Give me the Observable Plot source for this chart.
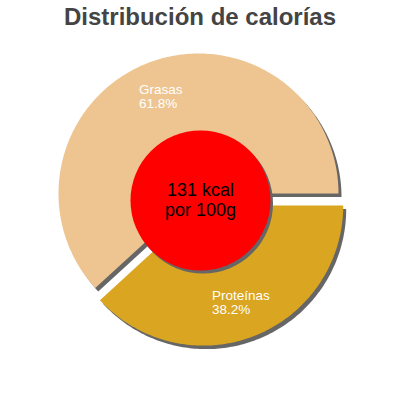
<!DOCTYPE html>
<html>
<head>
<meta charset="utf-8">
<script src="https://cdn.jsdelivr.net/npm/d3@7"></script>
<script src="https://cdn.jsdelivr.net/npm/@observablehq/plot@0.6"></script>
<style>
  html, body { margin: 0; padding: 0; background: #fff; }
  body { width: 400px; height: 400px; overflow: hidden; font-family: "Liberation Sans", Arial, sans-serif; }
  #title { height: 34px; line-height: 34px; text-align: center; font-size: 24px; font-weight: bold; color: #444; }
  svg { display: block; }
</style>
</head>
<body>
<div id="title"></div>
<div id="chart"></div>
<script>
const title = "Distribución de calorías";
const categories = ["Grasas", "Proteínas"];
const percents = [61.8, 38.2];
const percentLabels = ["61.8%", "38.2%"];
const colors = ["#EEC591", "#DAA520"];
const centerLines = ["131 kcal", "por 100g"];

document.getElementById("title").textContent = title;

const R = 140, explode = 13, labelR = 104;
const total = d3.sum(percents);
const ctx = document.createElement("canvas").getContext("2d");
ctx.font = "13.5px 'Liberation Sans', Arial, sans-serif";

let a0 = 0;
const slices = categories.map((name, i) => {
  const span = percents[i] / total * 2 * Math.PI;
  const start = a0, end = a0 - span;
  a0 = end;
  const mid = (start + end) / 2;
  const off = i === categories.length - 1 ? explode : 0;
  const ox = off * Math.cos(mid), oy = off * Math.sin(mid);
  const n = Math.ceil(span * 180 / Math.PI);
  const pts = [{x: ox, y: oy}];
  for (let k = 0; k <= n; k++) {
    const t = start + (end - start) * k / n;
    pts.push({x: ox + R * Math.cos(t), y: oy + R * Math.sin(t)});
  }
  const lines = [name, percentLabels[i]];
  const w = d3.max(lines, s => ctx.measureText(s).width);
  const label = {
    x: ox + labelR * Math.cos(mid) - w / 2,
    y: oy + labelR * Math.sin(mid),
    text: lines.join("\n")
  };
  return {name, color: colors[i], pts, label};
});

const center = [{x: 0, y: 0, text: centerLines.join("\n")}];

const marks = [];
for (const s of slices) {
  marks.push(Plot.line(s.pts, {x: "x", y: "y", fill: "#666", stroke: "none", curve: "linear-closed", dx: 3, dy: 3.5}));
}
for (const s of slices) {
  marks.push(Plot.line(s.pts, {x: "x", y: "y", fill: s.color, stroke: "none", curve: "linear-closed"}));
}
marks.push(Plot.text(slices.map(s => s.label), {
  x: "x", y: "y", text: "text", textAnchor: "start", lineAnchor: "middle",
  fontSize: 13.5, lineHeight: 1.0, fill: "white",
  fontFamily: "'Liberation Sans', Arial, sans-serif"
}));
marks.push(Plot.dot(center, {x: "x", y: "y", r: 70, fill: "#666", stroke: "none", dx: 4.5, dy: 10}));
marks.push(Plot.dot(center, {x: "x", y: "y", r: 70, fill: "#ff0000", stroke: "none", dx: 2, dy: 7}));
marks.push(Plot.text(center, {
  x: "x", y: "y", text: "text", fontSize: 18, lineHeight: 1.1, fill: "black",
  dx: 2, dy: 6, lineAnchor: "middle",
  fontFamily: "'Liberation Sans', Arial, sans-serif"
}));

const chart = Plot.plot({
  width: 400,
  height: 366,
  margin: 0,
  x: {domain: [-198, 202], range: [0, 400], axis: null},
  y: {domain: [-159, 207], range: [0, 366], axis: null},
  style: {background: "white", overflow: "visible"},
  marks
});
document.getElementById("chart").appendChild(chart);
</script>
</body>
</html>
